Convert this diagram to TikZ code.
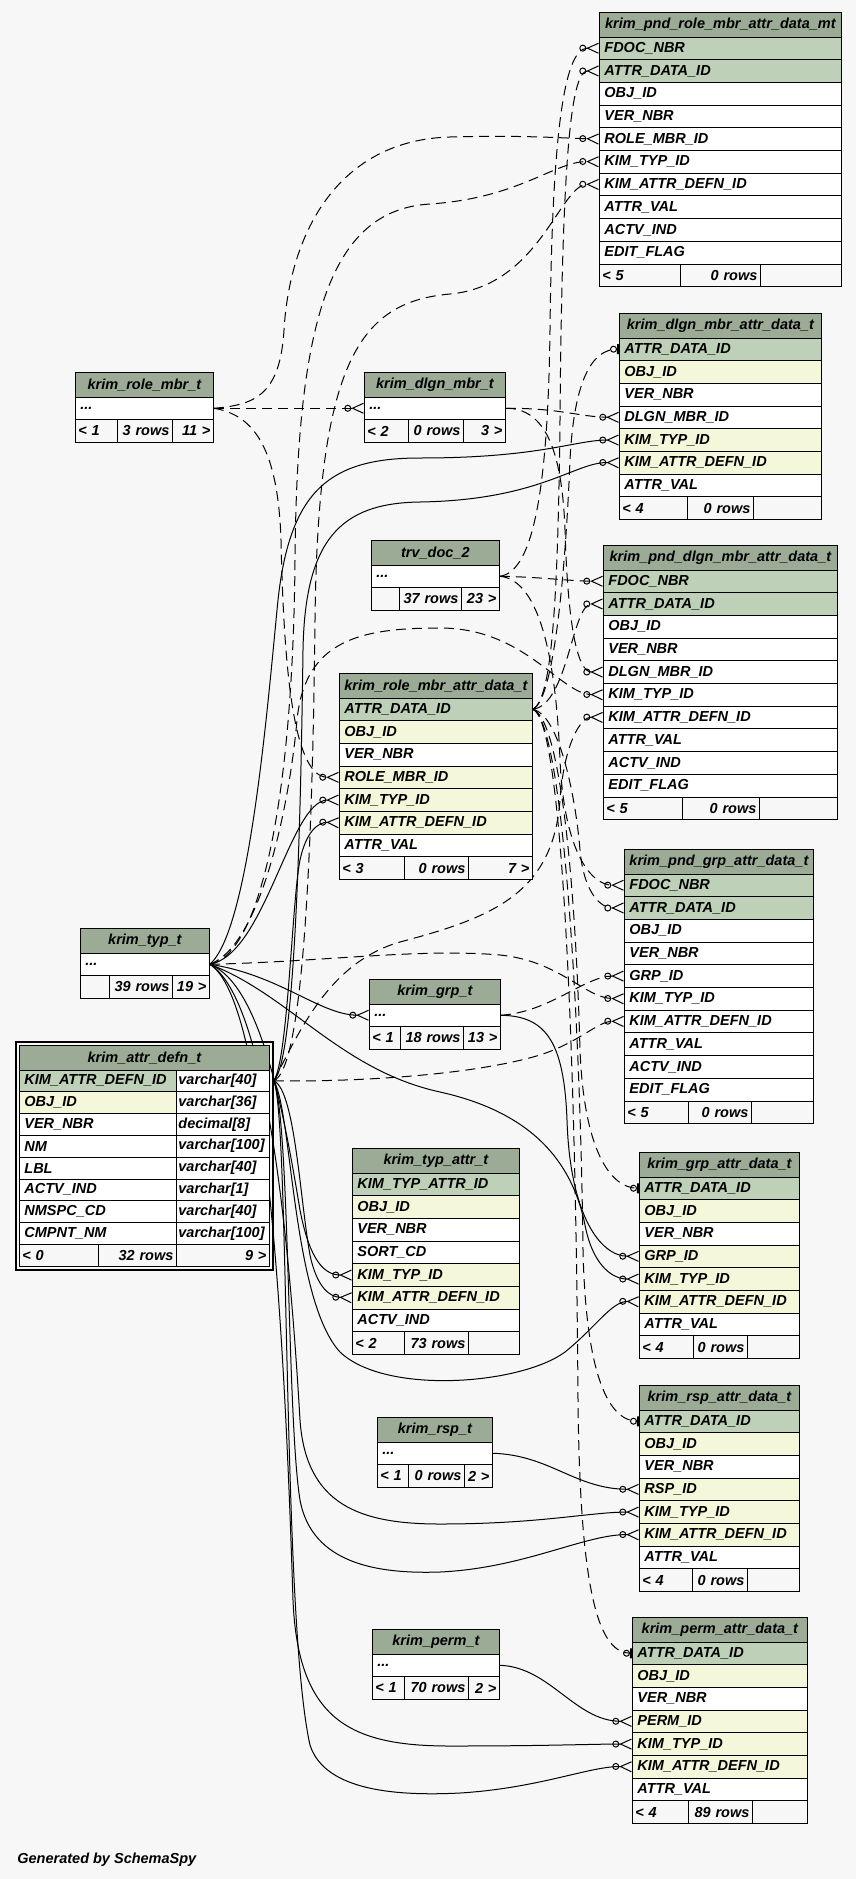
\documentclass[tikz,border=0pt]{standalone}
\usepackage{fontspec}
\setmainfont{Liberation Sans}
\usetikzlibrary{arrows.meta}
\definecolor{paperfill}{HTML}{F7F7F7}
\definecolor{headfill}{HTML}{9BAB96}
\definecolor{keyfill}{HTML}{BED1B8}
\definecolor{idxfill}{HTML}{F4F7DA}
\hyphenpenalty=10000
\pgfdeclarelayer{paper}
\pgfdeclarelayer{links}
\pgfsetlayers{paper,links,main}

\begin{document}
\begin{tikzpicture}
[   x=0.5pt, y=-0.5pt,
    every node/.style={font=\fontsize{7.25pt}{8.5pt}\selectfont\bfseries\itshape},
    head/.style={draw=black,fill=headfill,anchor=north west,minimum width=#1,minimum height=12.25pt,inner sep=0pt},
    row/.style={draw=black,fill=#1,anchor=north west,minimum height=11.35pt,inner xsep=2.5pt,inner ysep=0pt,align=left},
    foot/.style={draw=black,fill=paperfill,anchor=north west,minimum height=11.35pt,inner xsep=1.5pt,inner ysep=0pt,align=#1},
]
\tikzset{link/.style={draw=black,line width=0.5pt},
         implied/.style={link,dash pattern=on 5pt off 3pt},
         many/.style={-{Circle[open,length=3.5pt]Straight Barb[reversed,length=5.5pt,width=5pt]}},
         one/.style={-{Circle[open,length=3.5pt]Bar[width=5pt,line width=1pt]}}}
\useasboundingbox (0,0) rectangle (856,1879);
\begin{pgfonlayer}{paper}
\fill[paperfill] (0,0) rectangle (856,1879);
\end{pgfonlayer}

% krim_pnd_role_mbr_attr_data_mt
\node[head=121pt] (pndrole-h) at (599,12) {krim\_pnd\_role\_mbr\_attr\_data\_mt};
\foreach \i/\col/\txt in {1/keyfill/FDOC\_NBR,2/keyfill/ATTR\_DATA\_ID,3/white/OBJ\_ID,4/white/VER\_NBR,5/white/ROLE\_MBR\_ID,6/white/KIM\_TYP\_ID,7/white/KIM\_ATTR\_DEFN\_ID,8/white/ATTR\_VAL,9/white/ACTV\_IND,10/white/EDIT\_FLAG}
	\node[row=\col,text width=116pt] (pndrole-\i) at (599,{36.5+(\i-1)*22.7}) {\txt};
\node[foot=left,text width=37.5pt] (pndrole-f1) at (599,263.5) {< 5};
\node[foot=right,text width=37pt] (pndrole-f2) at (680,263.5) {0~rows};
\node[foot=right,text width=37.5pt] (pndrole-f3) at (760,263.5) {};

% krim_role_mbr_t
\node[head=69pt] (rolembr-h) at (75,372) {krim\_role\_mbr\_t};
\node[row=white,text width=64pt] (rolembr-1) at (75,396.5) {...};
\node[foot=left,text width=18pt] (rolembr-f1) at (75,419.2) {< 1};
\node[foot=right,text width=24.5pt] (rolembr-f2) at (117,419.2) {3~rows};
\node[foot=right,text width=17.5pt] (rolembr-f3) at (172,419.2) {11 >};

% krim_dlgn_mbr_t
\node[head=70.5pt] (dlgnmbr-h) at (364,372) {krim\_dlgn\_mbr\_t};
\node[row=white,text width=65.5pt] (dlgnmbr-1) at (364,396.5) {...};
\node[foot=left,text width=19pt] (dlgnmbr-f1) at (364,419.2) {< 2};
\node[foot=right,text width=24.5pt] (dlgnmbr-f2) at (408,419.2) {0~rows};
\node[foot=right,text width=18pt] (dlgnmbr-f3) at (463,419.2) {3 >};

% krim_dlgn_mbr_attr_data_t
\node[head=101pt] (dlgnattr-h) at (619,313) {krim\_dlgn\_mbr\_attr\_data\_t};
\foreach \i/\col/\txt in {1/keyfill/ATTR\_DATA\_ID,2/idxfill/OBJ\_ID,3/white/VER\_NBR,4/white/DLGN\_MBR\_ID,5/idxfill/KIM\_TYP\_ID,6/idxfill/KIM\_ATTR\_DEFN\_ID,7/white/ATTR\_VAL}
	\node[row=\col,text width=96pt] (dlgnattr-\i) at (619,{337.5+(\i-1)*22.7}) {\txt};
\node[foot=left,text width=31pt] (dlgnattr-f1) at (619,496.4) {< 4};
\node[foot=right,text width=30pt] (dlgnattr-f2) at (687,496.4) {0~rows};
\node[foot=right,text width=31pt] (dlgnattr-f3) at (753,496.4) {};

% trv_doc_2
\node[head=64pt] (trvdoc-h) at (371,540) {trv\_doc\_2};
\node[row=white,text width=59pt] (trvdoc-1) at (371,564.5) {...};
\node[foot=left,text width=11pt] (trvdoc-f1) at (371,587.2) {};
\node[foot=right,text width=28pt] (trvdoc-f2) at (399,587.2) {37~rows};
\node[foot=right,text width=16pt] (trvdoc-f3) at (461,587.2) {23 >};

% krim_pnd_dlgn_mbr_attr_data_t
\node[head=117pt] (pnddlgn-h) at (603,545) {krim\_pnd\_dlgn\_mbr\_attr\_data\_t};
\foreach \i/\col/\txt in {1/keyfill/FDOC\_NBR,2/keyfill/ATTR\_DATA\_ID,3/white/OBJ\_ID,4/white/VER\_NBR,5/white/DLGN\_MBR\_ID,6/white/KIM\_TYP\_ID,7/white/KIM\_ATTR\_DEFN\_ID,8/white/ATTR\_VAL,9/white/ACTV\_IND,10/white/EDIT\_FLAG}
	\node[row=\col,text width=112pt] (pnddlgn-\i) at (603,{569.5+(\i-1)*22.7}) {\txt};
\node[foot=left,text width=36.5pt] (pnddlgn-f1) at (603,796.5) {< 5};
\node[foot=right,text width=35.5pt] (pnddlgn-f2) at (682,796.5) {0~rows};
\node[foot=right,text width=36pt] (pnddlgn-f3) at (759,796.5) {};

% krim_role_mbr_attr_data_t
\node[head=96.5pt] (rolemattr-h) at (339,673) {krim\_role\_mbr\_attr\_data\_t};
\foreach \i/\col/\txt in {1/keyfill/ATTR\_DATA\_ID,2/idxfill/OBJ\_ID,3/white/VER\_NBR,4/idxfill/ROLE\_MBR\_ID,5/idxfill/KIM\_TYP\_ID,6/idxfill/KIM\_ATTR\_DEFN\_ID,7/white/ATTR\_VAL}
	\node[row=\col,text width=91.5pt] (rolemattr-\i) at (339,{697.5+(\i-1)*22.7}) {\txt};
\node[foot=left,text width=29.5pt] (rolemattr-f1) at (339,856.4) {< 3};
\node[foot=right,text width=29pt] (rolemattr-f2) at (404,856.4) {0~rows};
\node[foot=right,text width=29pt] (rolemattr-f3) at (468,856.4) {7 >};

% krim_typ_t
\node[head=64.5pt] (typt-h) at (80,928) {krim\_typ\_t};
\node[row=white,text width=59.5pt] (typt-1) at (80,952.5) {...};
\node[foot=left,text width=11.5pt] (typt-f1) at (80,975.2) {};
\node[foot=right,text width=28.5pt] (typt-f2) at (109,975.2) {39~rows};
\node[foot=right,text width=15.5pt] (typt-f3) at (172,975.2) {19 >};

% krim_attr_defn_t
\node[head=125pt] (attrdefn-h) at (19,1045) {krim\_attr\_defn\_t};
\foreach \i/\col/\txt/\typ in {1/keyfill/KIM\_ATTR\_DEFN\_ID/varchar[40],2/idxfill/OBJ\_ID/varchar[36],3/white/VER\_NBR/decimal[8],4/white/NM/varchar[100],5/white/LBL/varchar[40],6/white/ACTV\_IND/varchar[1],7/white/NMSPC\_CD/varchar[40],8/white/CMPNT\_NM/varchar[100]}
{
	\node[row=\col,text width=73.5pt,minimum height=10.9pt] (attrdefn-\i) at (19,{1069.5+(\i-1)*21.8}) {\txt};
	\node[row=white,text width=44.5pt,inner xsep=1pt,minimum height=10.9pt] (attrdefn-\i-t) at (176,{1069.5+(\i-1)*21.8}) {\typ};
}
\node[foot=left,text width=36.5pt,minimum height=10.9pt] (attrdefn-f1) at (19,1243.9) {< 0};
\node[foot=right,text width=36pt,minimum height=10.9pt] (attrdefn-f2) at (98,1243.9) {32~rows};
\node[foot=right,text width=43.5pt,minimum height=10.9pt] (attrdefn-f3) at (176,1243.9) {9 >};
\draw[line width=1pt] ([shift={(-1.5pt,1.5pt)}]attrdefn-h.north west) rectangle ([shift={(1.5pt,-1.5pt)}]attrdefn-f3.south east);
\coordinate (ad) at ([xshift=2pt]attrdefn-1-t.east);

% krim_grp_t
\node[head=65.5pt] (grpt-h) at (369,979) {krim\_grp\_t};
\node[row=white,text width=60.5pt] (grpt-1) at (369,1003.5) {...};
\node[foot=left,text width=12.5pt] (grpt-f1) at (369,1026.2) {< 1};
\node[foot=right,text width=28.5pt] (grpt-f2) at (400,1026.2) {18~rows};
\node[foot=right,text width=15.5pt] (grpt-f3) at (463,1026.2) {13 >};

% krim_pnd_grp_attr_data_t
\node[head=94.5pt] (pndgrp-h) at (624,849) {krim\_pnd\_grp\_attr\_data\_t};
\foreach \i/\col/\txt in {1/keyfill/FDOC\_NBR,2/keyfill/ATTR\_DATA\_ID,3/white/OBJ\_ID,4/white/VER\_NBR,5/white/GRP\_ID,6/white/KIM\_TYP\_ID,7/white/KIM\_ATTR\_DEFN\_ID,8/white/ATTR\_VAL,9/white/ACTV\_IND,10/white/EDIT\_FLAG}
	\node[row=\col,text width=89.5pt] (pndgrp-\i) at (624,{873.5+(\i-1)*22.7}) {\txt};
\node[foot=left,text width=29pt] (pndgrp-f1) at (624,1100.5) {< 5};
\node[foot=right,text width=28.5pt] (pndgrp-f2) at (688,1100.5) {0~rows};
\node[foot=right,text width=28pt] (pndgrp-f3) at (751,1100.5) {};

% krim_typ_attr_t
\node[head=83.5pt] (typattr-h) at (352,1148) {krim\_typ\_attr\_t};
\foreach \i/\col/\txt in {1/keyfill/KIM\_TYP\_ATTR\_ID,2/idxfill/OBJ\_ID,3/white/VER\_NBR,4/white/SORT\_CD,5/idxfill/KIM\_TYP\_ID,6/idxfill/KIM\_ATTR\_DEFN\_ID,7/white/ACTV\_IND}
	\node[row=\col,text width=78.5pt] (typattr-\i) at (352,{1172.5+(\i-1)*22.7}) {\txt};
\node[foot=left,text width=23pt] (typattr-f1) at (352,1331.4) {< 2};
\node[foot=right,text width=29pt] (typattr-f2) at (404,1331.4) {73~rows};
\node[foot=right,text width=22.5pt] (typattr-f3) at (468,1331.4) {};

% krim_grp_attr_data_t
\node[head=80pt] (grpattr-h) at (639,1152) {krim\_grp\_attr\_data\_t};
\foreach \i/\col/\txt in {1/keyfill/ATTR\_DATA\_ID,2/idxfill/OBJ\_ID,3/white/VER\_NBR,4/idxfill/GRP\_ID,5/idxfill/KIM\_TYP\_ID,6/idxfill/KIM\_ATTR\_DEFN\_ID,7/white/ATTR\_VAL}
	\node[row=\col,text width=75pt] (grpattr-\i) at (639,{1176.5+(\i-1)*22.7}) {\txt};
\node[foot=left,text width=24pt] (grpattr-f1) at (639,1335.4) {< 4};
\node[foot=right,text width=24pt] (grpattr-f2) at (693,1335.4) {0~rows};
\node[foot=right,text width=23pt] (grpattr-f3) at (747,1335.4) {};

% krim_rsp_t
\node[head=57.5pt] (rspt-h) at (377,1417) {krim\_rsp\_t};
\node[row=white,text width=52.5pt] (rspt-1) at (377,1441.5) {...};
\node[foot=left,text width=12.5pt] (rspt-f1) at (377,1464.2) {< 1};
\node[foot=right,text width=25pt] (rspt-f2) at (408,1464.2) {0~rows};
\node[foot=right,text width=11pt] (rspt-f3) at (464,1464.2) {2 >};

% krim_rsp_attr_data_t
\node[head=80pt] (rspattr-h) at (639,1385) {krim\_rsp\_attr\_data\_t};
\foreach \i/\col/\txt in {1/keyfill/ATTR\_DATA\_ID,2/idxfill/OBJ\_ID,3/white/VER\_NBR,4/idxfill/RSP\_ID,5/idxfill/KIM\_TYP\_ID,6/idxfill/KIM\_ATTR\_DEFN\_ID,7/white/ATTR\_VAL}
	\node[row=\col,text width=75pt] (rspattr-\i) at (639,{1409.5+(\i-1)*22.7}) {\txt};
\node[foot=left,text width=23.5pt] (rspattr-f1) at (639,1568.4) {< 4};
\node[foot=right,text width=24.5pt] (rspattr-f2) at (692,1568.4) {0~rows};
\node[foot=right,text width=23pt] (rspattr-f3) at (747,1568.4) {};

% krim_perm_t
\node[head=63.5pt] (permt-h) at (372,1629) {krim\_perm\_t};
\node[row=white,text width=58.5pt] (permt-1) at (372,1653.5) {...};
\node[foot=left,text width=13pt] (permt-f1) at (372,1676.2) {< 1};
\node[foot=right,text width=29pt] (permt-f2) at (404,1676.2) {70~rows};
\node[foot=right,text width=12.5pt] (permt-f3) at (468,1676.2) {2 >};

% krim_perm_attr_data_t
\node[head=87.5pt] (permattr-h) at (632,1617) {krim\_perm\_attr\_data\_t};
\foreach \i/\col/\txt in {1/keyfill/ATTR\_DATA\_ID,2/idxfill/OBJ\_ID,3/white/VER\_NBR,4/idxfill/PERM\_ID,5/idxfill/KIM\_TYP\_ID,6/idxfill/KIM\_ATTR\_DEFN\_ID,7/white/ATTR\_VAL}
	\node[row=\col,text width=82.5pt] (permattr-\i) at (632,{1641.5+(\i-1)*22.7}) {\txt};
\node[foot=left,text width=25pt] (permattr-f1) at (632,1800.4) {< 4};
\node[foot=right,text width=29pt] (permattr-f2) at (688,1800.4) {89~rows};
\node[foot=right,text width=24.5pt] (permattr-f3) at (752,1800.4) {};

\node[anchor=base west,inner sep=0pt] (credit) at (17,1863) {Generated by SchemaSpy};

\begin{pgfonlayer}{links}
% from krim_typ_t
\draw[implied,many] (typt-1.east) .. controls (260,955) and (293,800) .. (295,560) .. controls (297,320) and (330,210) .. (430,204) .. controls (520,198) and (555,161) .. (pndrole-6.west);
\draw[link,many] (typt-1.east) .. controls (250,930) and (268,700) .. (278,600) .. controls (290,490) and (330,458) .. (420,458) .. controls (540,458) and (575,440) .. (dlgnattr-5.west);
\draw[implied,many] (typt-1.east) .. controls (262,945) and (290,800) .. (297,720) .. controls (305,640) and (360,628) .. (440,628) .. controls (525,628) and (560,694) .. (pnddlgn-6.west);
\draw[link,many] (typt-1.east) .. controls (265,955) and (290,800) .. (rolemattr-5.west);
\draw[implied,many] (typt-1.east) .. controls (320,962) and (420,948) .. (500,955) .. controls (560,961) and (585,998) .. (pndgrp-6.west);
\draw[link,many] (typt-1.east) .. controls (280,975) and (320,1015) .. (grpt-1.west);
\draw[link,many] (typt-1.east) .. controls (262,985) and (285,1120) .. (300,1210) .. controls (310,1262) and (325,1275) .. (typattr-5.west);
\draw[link,many] (typt-1.east) .. controls (290,995) and (340,1070) .. (440,1092) .. controls (530,1112) and (572,1160) .. (585,1225) .. controls (592,1262) and (610,1279) .. (grpattr-5.west);
\draw[link,many] (typt-1.east) .. controls (268,1000) and (290,1250) .. (300,1420) .. controls (306,1505) and (360,1524) .. (440,1524) .. controls (540,1524) and (590,1512) .. (rspattr-5.west);
\draw[link,many] (typt-1.east) .. controls (268,1000) and (285,1350) .. (293,1600) .. controls (298,1720) and (350,1746) .. (450,1746) .. controls (550,1746) and (590,1744) .. (permattr-5.west);
% from krim_attr_defn_t
\draw[implied,many] (ad) .. controls (300,1070) and (312,900) .. (315,620) .. controls (318,360) and (360,302) .. (450,294) .. controls (540,286) and (560,184) .. (pndrole-7.west);
\draw[link,many] (ad) .. controls (296,1060) and (301,800) .. (303,650) .. controls (305,540) and (340,503) .. (420,502) .. controls (540,500) and (575,462) .. (dlgnattr-6.west);
\draw[implied,many] (ad) .. controls (300,1030) and (330,962) .. (400,942) .. controls (490,918) and (553,895) .. (560,800) .. controls (564,745) and (580,717) .. (pnddlgn-7.west);
\draw[link,many] (ad) .. controls (288,1060) and (292,900) .. (300,860) .. controls (306,832) and (318,822) .. (rolemattr-6.west);
\draw[implied,many] (ad) .. controls (350,1082) and (470,1076) .. (540,1055) .. controls (580,1042) and (598,1021) .. (pndgrp-7.west);
\draw[link,many] (ad) .. controls (295,1090) and (300,1200) .. (310,1255) .. controls (317,1288) and (330,1297) .. (typattr-6.west);
\draw[link,many] (ad) .. controls (292,1110) and (292,1300) .. (340,1352) .. controls (385,1395) and (520,1385) .. (565,1352) .. controls (595,1328) and (612,1301) .. (grpattr-6.west);
\draw[link,many] (ad) .. controls (290,1120) and (287,1420) .. (300,1500) .. controls (312,1565) and (380,1574) .. (440,1572) .. controls (525,1568) and (585,1534) .. (rspattr-6.west);
\draw[link,many] (ad) .. controls (290,1120) and (282,1620) .. (310,1745) .. controls (325,1792) and (400,1796) .. (460,1793) .. controls (540,1788) and (590,1766) .. (permattr-6.west);
% from krim_role_mbr_t
\draw[implied,many] (rolembr-1.east) -- (dlgnmbr-1.west);
\draw[implied,many] (rolembr-1.east) .. controls (255,405) and (280,395) .. (284,330) .. controls (290,230) and (340,140) .. (450,137) .. controls (520,135) and (560,138) .. (pndrole-5.west);
\draw[implied,many] (rolembr-1.east) .. controls (255,415) and (278,450) .. (281,540) .. controls (284,680) and (295,777) .. (rolemattr-4.west);
% from krim_dlgn_mbr_t
\draw[implied,many] (dlgnmbr-1.east) .. controls (560,408) and (580,417) .. (dlgnattr-4.west);
\draw[implied,many] (dlgnmbr-1.east) .. controls (545,408) and (562,450) .. (565,530) .. controls (568,630) and (578,672) .. (pnddlgn-5.west);
% from trv_doc_2
\draw[implied,many] (trvdoc-1.east) .. controls (535,572) and (548,480) .. (550,330) .. controls (552,150) and (562,48) .. (pndrole-1.west);
\draw[implied,many] (trvdoc-1.east) .. controls (540,577) and (570,581) .. (pnddlgn-1.west);
\draw[implied,many] (trvdoc-1.east) .. controls (540,580) and (556,660) .. (560,760) .. controls (564,850) and (590,885) .. (pndgrp-1.west);
% from krim_role_mbr_attr_data_t
\draw[implied,many] (rolemattr-1.east) .. controls (552,700) and (558,600) .. (560,420) .. controls (562,170) and (570,71) .. (pndrole-2.west);
\draw[implied,one] (rolemattr-1.east) .. controls (555,700) and (566,560) .. (570,460) .. controls (574,380) and (592,349) .. (dlgnattr-1.west);
\draw[implied,many] (rolemattr-1.east) .. controls (568,705) and (572,604) .. (pnddlgn-2.west);
\draw[implied,many] (rolemattr-1.east) .. controls (560,715) and (576,800) .. (580,850) .. controls (584,895) and (602,908) .. (pndgrp-2.west);
\draw[implied,one] (rolemattr-1.east) .. controls (562,720) and (576,900) .. (580,1050) .. controls (584,1150) and (610,1188) .. (grpattr-1.west);
\draw[implied,one] (rolemattr-1.east) .. controls (562,720) and (580,1000) .. (583,1250) .. controls (586,1380) and (610,1421) .. (rspattr-1.west);
\draw[implied,one] (rolemattr-1.east) .. controls (565,720) and (576,1100) .. (578,1400) .. controls (580,1600) and (600,1653) .. (permattr-1.west);
% from krim_grp_t, krim_rsp_t, krim_perm_t
\draw[implied,many] (grpt-1.east) .. controls (550,1012) and (585,976) .. (pndgrp-5.west);
\draw[link,many] (grpt-1.east) .. controls (545,1016) and (564,1040) .. (567,1120) .. controls (570,1215) and (600,1256) .. (grpattr-4.west);
\draw[link,many] (rspt-1.east) .. controls (550,1455) and (575,1489) .. (rspattr-4.west);
\draw[link,many] (permt-1.east) .. controls (550,1667) and (575,1721) .. (permattr-4.west);
\end{pgfonlayer}
\end{tikzpicture}
\end{document}
